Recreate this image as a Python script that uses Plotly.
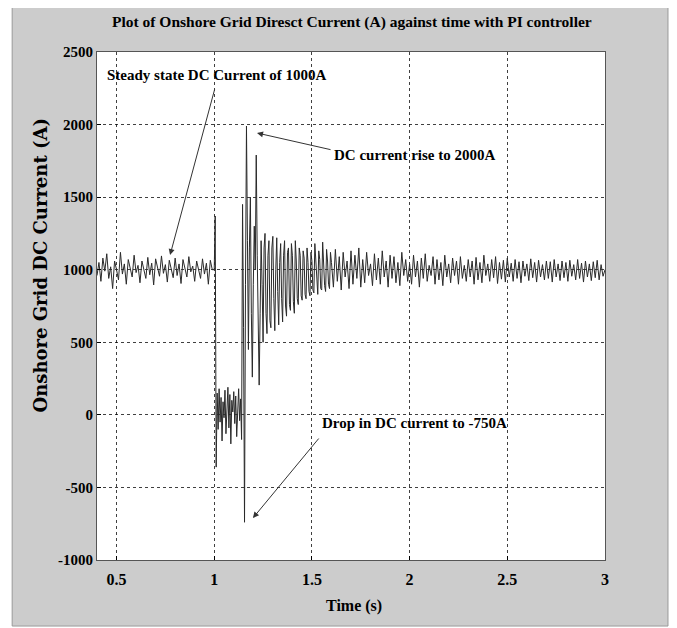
import plotly.graph_objects as go

# ---------------- data ----------------
# steady part, t = 0.40 .. 0.99 (step 0.01)
t0_steady, dt_steady = 0.40, 0.01
i_steady = [960, 1050, 920, 1080, 990, 1110, 940, 1020, 870, 1060,
            1000, 930, 1120, 970, 1040, 900, 1070, 1010, 950, 1100,
            980, 1030, 910, 1060, 1000, 940, 1085, 965, 1045, 895,
            1075, 1005, 955, 1095, 975, 1035, 915, 1065, 995, 945,
            1080, 960, 1040, 905, 1070, 1010, 950, 1090, 985, 1025,
            920, 1060, 1000, 940, 1075, 970, 1045, 900, 1065, 1000]

# fault and recovery, t = 1.000 .. 1.600 (step 0.005)
t0_fault, dt_fault = 1.00, 0.005
i_fault = [1000, 1370, -360, 150, -100, 180, -50, 120, -180, 90,
           -20, 170, -130, 60, 190, -90, 140, -200, 100, 20,
           160, -60, 130, -150, 80, 180, -40, 110, -170, 1450,
           600, -740, 900, 1990, 1200, 450, 1150, 1500, 700, 260,
           900, 1300, 1000, 1790, 1100, 600, 205, 700, 1200, 900,
           500, 1150, 1250, 700, 560, 1100, 1200, 650, 600, 1150,
           1230, 800, 580, 1000, 1220, 850, 620, 1050, 1180, 800,
           640, 1100, 1200, 750, 680, 1120, 1150, 760, 720, 1180,
           1100, 780, 700, 1200, 1060, 800, 760, 1150, 1100, 820,
           790, 1130, 1080, 830, 800, 1150, 1050, 850, 820, 1120,
           1060, 860, 840, 1180, 1040, 880, 830, 1130, 1070, 870,
           860, 1190, 1020, 890, 850, 1140, 1060, 900, 870, 1120,
           1050]

# late steady part, t = 1.61 .. 3.00 (step 0.01)
t0_late, dt_late = 1.61, 0.01
i_late = [880, 1140, 920, 1090, 860, 1120, 950, 1060, 870, 1130,
          900, 1100, 940, 1150, 880, 1070, 910, 1120, 960, 1040,
          890, 1110, 930, 1080, 900, 1130, 950, 1060, 880, 1100,
          940, 1090, 910, 1050, 890, 1120, 960, 1070, 920, 1040,
          900, 1100, 950, 1060, 880, 1080, 940, 1110, 920, 1030,
          960, 1090, 900, 1070, 930, 1050, 890, 1100, 950, 1040,
          910, 1080, 960, 1060, 900, 1090, 940, 1030, 920, 1070,
          950, 1060, 900, 1085, 930, 1050, 910, 1100, 960, 1040,
          920, 1070, 945, 1090, 905, 1050, 935, 1065, 915, 1080,
          950, 1045, 920, 1070, 940, 1055, 910, 1060, 955, 1040,
          925, 1075, 945, 1050, 915, 1065, 950, 1035, 930, 1060,
          940, 1055, 915, 1070, 950, 1040, 925, 1060, 945, 1050,
          920, 1065, 955, 1035, 930, 1070, 940, 1045, 915, 1060,
          950, 1040, 925, 1055, 945, 1065, 930, 1035, 955, 1000]

x_ticks = [0.5, 1, 1.5, 2, 2.5, 3]
x_tick_labels = ["0.5", "1", "1.5", "2", "2.5", "3"]
y_ticks = [-1000, -500, 0, 500, 1000, 1500, 2000, 2500]
y_tick_labels = ["-1000", "-500", "0", "500", "1000", "1500", "2000", "2500"]

title_text = "Plot of Onshore Grid Diresct Current (A) against time with PI controller"
x_title = "Time (s)"
y_title = "Onshore Grid DC Current (A)"

# ---------------- build series ----------------
t_all, i_all = [], []
for t0, dt, vals in [(t0_steady, dt_steady, i_steady),
                     (t0_fault, dt_fault, i_fault),
                     (t0_late, dt_late, i_late)]:
    for k, v in enumerate(vals):
        t_all.append(round(t0 + k * dt, 4))
        i_all.append(v)

SERIF = "Liberation Serif, Times New Roman, serif"

fig = go.Figure()
fig.add_trace(go.Scatter(x=t_all, y=i_all, mode="lines",
                         line=dict(color="#2a2a2a", width=1),
                         showlegend=False, hoverinfo="skip"))

# grey figure panel (MATLAB style) and white axes area
fig.add_shape(type="rect", xref="paper", yref="paper",
              x0=-0.167, x1=1.124, y0=-0.13, y1=1.0925,
              fillcolor="#cccccc", line=dict(color="#9a9a9a", width=1), layer="below")
fig.add_shape(type="rect", xref="paper", yref="paper",
              x0=0, x1=1, y0=0, y1=1,
              fillcolor="white", line=dict(width=0), layer="below")

font_txt = dict(family=SERIF, size=15, color="black")

ann = []
# title and axis titles
ann.append(dict(text="<b>" + title_text + "</b>", xref="paper", yref="paper",
                x=0.502, y=1.059, xanchor="center", yanchor="middle",
                showarrow=False, font=dict(family=SERIF, size=15.5, color="black")))
ann.append(dict(text="<b>" + x_title + "</b>", xref="paper", yref="paper",
                x=0.505, y=-0.09, xanchor="center", yanchor="middle",
                showarrow=False, font=dict(family=SERIF, size=16, color="black")))
ann.append(dict(text="<b>" + y_title + "</b>", xref="paper", yref="paper",
                x=-0.112, y=0.58, xanchor="center", yanchor="middle", textangle=-90,
                showarrow=False, font=dict(family="DejaVu Serif, serif", size=18, color="black")))

# annotation texts
ann.append(dict(text="<b>Steady state DC Current of 1000A</b>", x=0.441, y=2341,
                xref="x", yref="y", xanchor="left", yanchor="middle",
                showarrow=False, font=font_txt))
ann.append(dict(text="<b>DC current rise to 2000A</b>", x=1.603, y=1790,
                xref="x", yref="y", xanchor="left", yanchor="middle",
                showarrow=False, font=font_txt))
ann.append(dict(text="<b>Drop in DC current to -750A</b>", x=1.541, y=-56,
                xref="x", yref="y", xanchor="left", yanchor="middle",
                showarrow=False, font=font_txt))

# arrows (head at x,y; tail at ax,ay)
for (hx, hy, tx, ty) in [(0.774, 1101, 1.004, 2252),
                         (1.219, 1942, 1.603, 1825),
                         (1.198, -711, 1.541, -153)]:
    ann.append(dict(text="", x=hx, y=hy, ax=tx, ay=ty, xref="x", yref="y",
                    axref="x", ayref="y", showarrow=True, arrowhead=2,
                    arrowsize=1.2, arrowwidth=1, arrowcolor="#333333"))

fig.update_layout(
    width=677, height=628,
    margin=dict(l=89, r=80, t=44, b=76),
    paper_bgcolor="white", plot_bgcolor="white",
    annotations=ann,
    xaxis=dict(range=[0.4, 3], tickvals=x_ticks, ticktext=["<b>%s</b>" % s for s in x_tick_labels],
               tickfont=dict(family=SERIF, size=16, color="black"),
               showgrid=True, gridcolor="rgba(0,0,0,0.75)", griddash="dot", gridwidth=1,
               ticks="inside", ticklen=4, tickcolor="black", ticklabelstandoff=5,
               showline=True, linecolor="#555555", linewidth=1, mirror=True,
               zeroline=False, fixedrange=True),
    yaxis=dict(range=[-1000, 2500], tickvals=y_ticks, ticktext=["<b>%s</b>" % s for s in y_tick_labels],
               tickfont=dict(family=SERIF, size=15, color="black"),
               showgrid=True, gridcolor="rgba(0,0,0,0.75)", griddash="dot", gridwidth=1,
               ticks="inside", ticklen=4, tickcolor="black",
               showline=True, linecolor="#555555", linewidth=1, mirror=True,
               zeroline=False, fixedrange=True),
)

fig.write_html("out.html")
